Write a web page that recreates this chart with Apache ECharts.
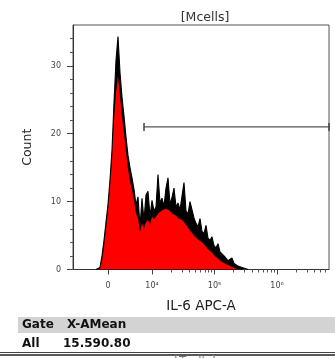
<!DOCTYPE html>
<html>
<head>
<meta charset="utf-8">
<script src="https://cdn.jsdelivr.net/npm/echarts@6/dist/echarts.min.js"></script>
<style>
html,body{margin:0;padding:0;background:#fff;}
#chart{width:335px;height:358px;}
</style>
</head>
<body>
<div id="chart"></div>
<script>
// ---- text ----
const titleText = '[Mcells]';
const xName = 'IL-6 APC-A';
const yName = 'Count';
const tableHeader = ['Gate', 'X-AMean'];
const tableRow = ['All', '15.590.80'];
const nextPanelTitle = '[Tcells]';

// ---- histogram (display channels 0..256, bins of 2 channels starting at 23) ----
const binStart = 23;
const binWidth = 2;
// upper (black) envelope of the histogram, counts
const envelopeCounts = [
  0, 0.1, 0.3, 2.0, 4.3, 7.0, 9.6, 13.2, 17.6, 24.6,
  30.8, 34.3, 29.0, 25.4, 22.6, 19.5, 16.8, 15.0, 13.5, 11.8,
  9.5, 10.7, 6.3, 10.5, 7.2, 11.0, 11.5, 7.8, 10.2, 8.6,
  9.2, 14.0, 9.8, 10.5, 9.3, 12.0, 13.5, 9.6, 10.6, 12.0,
  9.2, 9.8, 8.8, 10.8, 12.8, 8.6, 8.2, 10.0, 9.8, 7.6,
  6.8, 6.3, 7.5, 5.6, 5.3, 6.5, 4.6, 4.3, 4.8, 3.5,
  3.2, 3.8, 2.6, 2.3, 2.0, 2.2, 1.3, 1.1, 1.7, 0.9,
  0.7, 0.5, 0.7, 0.3, 0.3, 0.1, 0
];
// red fill of the histogram, counts
const fillCounts = [
  0, 0, 0.1, 1.2, 3.3, 6.0, 8.6, 12.0, 16.0, 22.0,
  26.0, 28.5, 25.5, 22.5, 20.0, 17.3, 14.8, 13.0, 11.7, 10.2,
  8.2, 7.6, 5.5, 6.8, 6.0, 7.0, 7.3, 6.6, 7.8, 7.4,
  7.8, 8.2, 8.3, 8.7, 8.9, 9.0, 8.9, 8.6, 8.3, 8.3,
  7.9, 7.6, 7.5, 7.3, 7.1, 6.6, 6.2, 5.7, 5.4, 5.0,
  4.7, 4.4, 4.4, 4.0, 3.7, 3.4, 3.0, 2.9, 2.5, 2.1,
  1.9, 1.6, 1.4, 1.1, 0.9, 0.8, 0.6, 0.5, 0.4, 0.25,
  0.1, 0, 0, 0, 0, 0, 0
];

// ---- axes ----
const yMax = 36;
const yTickValues = [0, 10, 20, 30];
const yMinorTickValues = [2, 4, 6, 8, 12, 14, 16, 18, 22, 24, 26, 28, 32, 34];
const xTickValues = [0, 1e4, 1e5, 1e6];
const xTickLabels = ['0', '10\u2074', '10\u2075', '10\u2076'];
const xMinorTickValues = [2e4,3e4,4e4,5e4,6e4,7e4,8e4,9e4,2e5,3e5,4e5,5e5,6e5,7e5,8e5,9e5,2e6,3e6,4e6,5e6,6e6];

// ---- gate ----
const gateChannels = [71, 256];
const gateLevel = 21;

// biexponential-like display scale: value -> display channel
function toChannel(v) {
  if (v < 1e4) return 35 + v / 1e4 * 44;
  return 79 + (Math.log10(v) - 4) * 62.5;
}

const envData = envelopeCounts.map((c, i) => [binStart + i * binWidth, c]);
const fillData = fillCounts.map((c, i) => [binStart + i * binWidth, c]);
const xMajor = xTickValues.map(toChannel);
const xMinor = xMinorTickValues.map(toChannel).filter(c => c <= 256);
const labelMap = {};
xMajor.forEach((c, i) => { labelMap[c.toFixed(3)] = xTickLabels[i]; });

const font = 'DejaVu Sans';
const chart = echarts.init(document.getElementById('chart'), null, {renderer: 'canvas'});
chart.setOption({
  animation: false,
  backgroundColor: '#fff',
  title: {
    text: titleText, left: 200, top: 6, textAlign: 'center',
    textStyle: {fontFamily: font, fontSize: 12.5, fontWeight: 'normal', color: '#333'}
  },
  grid: {
    left: 73, right: 6, top: 25, bottom: 88.5,
    show: true, borderColor: '#555', borderWidth: 1, backgroundColor: '#fff'
  },
  xAxis: [{
    type: 'value', min: 0, max: 256,
    name: xName, nameLocation: 'middle', nameGap: 30,
    nameTextStyle: {fontFamily: font, fontSize: 13.5, color: '#222'},
    axisLine: {show: true, lineStyle: {color: '#333', width: 1}},
    axisTick: {show: true, inside: false, length: 5, customValues: xMajor, lineStyle: {color: '#444'}},
    axisLabel: {
      show: true, customValues: xMajor, margin: 12,
      fontFamily: font, fontSize: 8, color: '#444',
      formatter: v => labelMap[Number(v).toFixed(3)] || ''
    },
    splitLine: {show: false}
  }, {
    type: 'value', min: 0, max: 256, position: 'bottom',
    axisLine: {show: false},
    axisTick: {show: true, inside: false, length: 3, customValues: xMinor, lineStyle: {color: '#555'}},
    axisLabel: {show: false},
    splitLine: {show: false}
  }],
  yAxis: [{
    type: 'value', min: 0, max: yMax, position: 'left',
    name: yName, nameLocation: 'middle', nameGap: 39, nameRotate: 90,
    nameTextStyle: {fontFamily: font, fontSize: 12.5, color: '#222'},
    axisLine: {show: true, lineStyle: {color: '#333', width: 1}},
    axisTick: {show: true, inside: false, length: 6, customValues: yTickValues, lineStyle: {color: '#444'}},
    axisLabel: {show: true, customValues: yTickValues, margin: 12, fontFamily: font, fontSize: 8, color: '#444'},
    splitLine: {show: false}
  }, {
    type: 'value', min: 0, max: yMax, position: 'left', offset: 0,
    axisLine: {show: false},
    axisTick: {show: true, inside: false, length: 3, customValues: yMinorTickValues, lineStyle: {color: '#555'}},
    axisLabel: {show: false},
    splitLine: {show: false}
  }],
  series: [{
    type: 'line', data: envData, xAxisIndex: 0, yAxisIndex: 0,
    symbol: 'none', smooth: false,
    lineStyle: {color: '#000', width: 1.1},
    areaStyle: {color: '#000', opacity: 1},
    z: 2
  }, {
    type: 'line', data: fillData, xAxisIndex: 0, yAxisIndex: 0,
    symbol: 'none', smooth: false,
    lineStyle: {width: 0, color: '#ff0000'},
    areaStyle: {color: '#ff0000', opacity: 1},
    z: 3
  }, {
    type: 'line', xAxisIndex: 0, yAxisIndex: 0,
    data: [[gateChannels[0], gateLevel], [gateChannels[1], gateLevel]],
    symbol: 'rect', symbolSize: [1.5, 8], showSymbol: true, clip: false,
    itemStyle: {color: '#444'},
    lineStyle: {color: '#555', width: 1.2},
    z: 4
  }],
  graphic: [
    {type: 'rect', shape: {x: 18, y: 317, width: 317, height: 16}, style: {fill: '#d3d3d3'}},
    {type: 'text', x: 22, y: 325, style: {text: tableHeader[0], font: 'bold 12px "DejaVu Sans"', fill: '#111', textVerticalAlign: 'middle'}},
    {type: 'text', x: 67, y: 325, style: {text: tableHeader[1], font: 'bold 12px "DejaVu Sans"', fill: '#111', textVerticalAlign: 'middle'}},
    {type: 'text', x: 22, y: 344, style: {text: tableRow[0], font: 'bold 12px "DejaVu Sans"', fill: '#111', textVerticalAlign: 'middle'}},
    {type: 'text', x: 63, y: 344, style: {text: tableRow[1], font: 'bold 12px "DejaVu Sans"', fill: '#111', textVerticalAlign: 'middle'}},
    {type: 'line', shape: {x1: 0, y1: 352.5, x2: 335, y2: 352.5}, style: {stroke: '#444', lineWidth: 1}},
    {type: 'line', shape: {x1: 0, y1: 355, x2: 335, y2: 355}, style: {stroke: '#222', lineWidth: 1.5}},
    {type: 'text', x: 195, y: 356, style: {text: nextPanelTitle, font: '12px "DejaVu Sans"', fill: '#777', textAlign: 'center', textVerticalAlign: 'top'}}
  ]
});
</script>
</body>
</html>
